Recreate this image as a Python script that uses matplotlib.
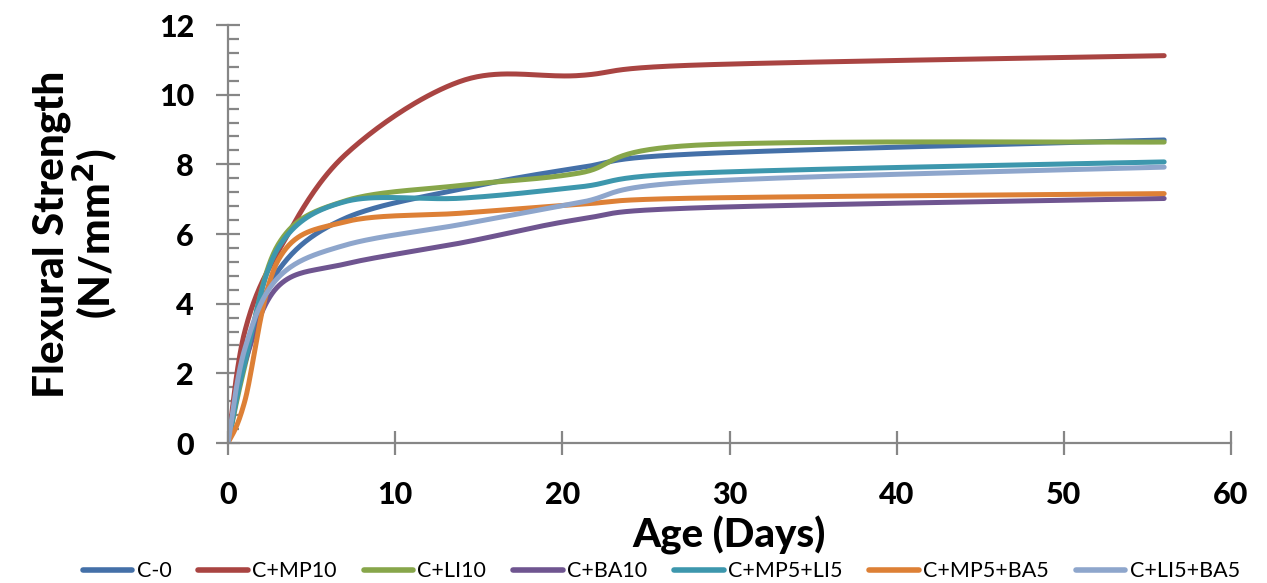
import numpy as np
import matplotlib
matplotlib.use("Agg")
import matplotlib.pyplot as plt
from matplotlib.ticker import MultipleLocator

# Data - ages in days
days = [0, 1, 3, 7, 14, 21, 28, 56]
c0 = [0, 2.4, 4.95, 6.45, 7.3, 7.9, 8.3, 8.7]
mp10 = [0, 3.2, 5.5, 8.27, 10.4, 10.55, 10.85, 11.12]
li10 = [0, 2.2, 5.7, 6.95, 7.4, 7.75, 8.55, 8.64]
ba10 = [0, 2.3, 4.5, 5.14, 5.75, 6.42, 6.75, 7.02]
mp5li5 = [0, 2.3, 5.6, 6.93, 7.03, 7.35, 7.75, 8.07]
mp5ba5 = [0, 1.2, 5.25, 6.35, 6.6, 6.85, 7.03, 7.16]
li5ba5 = [0, 2.7, 4.75, 5.68, 6.28, 6.9, 7.5, 7.92]

names = ["C-0", "C+MP10", "C+LI10", "C+BA10", "C+MP5+LI5", "C+MP5+BA5", "C+LI5+BA5"]
series = [c0, mp10, li10, ba10, mp5li5, mp5ba5, li5ba5]
colors = ["#4470a8", "#a94442", "#87a64a", "#6f5590", "#3d97ad", "#dd8036", "#8ea6cc"]


def smooth(xs, ys, n=40):
    # Excel-like smoothed line: cubic bezier through points
    p = np.column_stack([xs, ys]).astype(float)
    out = []
    for i in range(len(p) - 1):
        p0 = p[i - 1] if i > 0 else p[i]
        p1 = p[i]
        p2 = p[i + 1]
        p3 = p[i + 2] if i + 2 < len(p) else p[i + 1]
        b1 = p1 + (p2 - p0) / 6
        b2 = p2 - (p3 - p1) / 6
        t = np.linspace(0, 1, n)[:, None]
        seg = ((1 - t) ** 3) * p1 + 3 * ((1 - t) ** 2) * t * b1 + 3 * (1 - t) * t ** 2 * b2 + t ** 3 * p2
        out.append(seg if i == 0 else seg[1:])
    out = np.vstack(out)
    return out[:, 0], out[:, 1]


plt.rcParams['font.family'] = ['Lato', 'DejaVu Sans']

fig = plt.figure(figsize=(12.67, 5.83), dpi=100)
ax = fig.add_axes([0.18, 0.2401, 0.7916, 0.7170])

for name, vals, col in zip(names, series, colors):
    sx, sy = smooth(days, vals)
    ax.plot(sx, sy, color=col, lw=3.6, label=name, solid_capstyle='round')

ax.set_xlim(0, 60)
ax.set_ylim(0, 12)
ax.xaxis.set_major_locator(MultipleLocator(10))
ax.yaxis.set_major_locator(MultipleLocator(2))
ax.yaxis.set_minor_locator(MultipleLocator(0.4))

axis_gray = "#868686"
for s in ["top", "right"]:
    ax.spines[s].set_visible(False)
for s in ["left", "bottom"]:
    ax.spines[s].set_color(axis_gray)
    ax.spines[s].set_linewidth(1.6)

ax.tick_params(axis='both', which='major', direction='inout', length=17, width=1.6,
               color=axis_gray, labelsize=22)
ax.tick_params(axis='x', which='major', pad=19)
ax.tick_params(axis='y', which='major', pad=16)
ax.tick_params(axis='y', which='minor', direction='in', length=8, width=1.6, color=axis_gray)
for lab in ax.get_xticklabels() + ax.get_yticklabels():
    lab.set_fontweight('black')

ax.set_xlabel("Age (Days)", fontsize=29, fontweight='black', labelpad=5)
ax.set_ylabel("Flexural Strength\n(N/mm$^\\mathbf{2}$)", fontsize=30.5, fontweight='black',
              linespacing=1.0, labelpad=28)

leg = fig.legend(loc='lower center', bbox_to_anchor=(0.522, -0.03), ncol=7, frameon=False,
                 fontsize=15.5, handlelength=2.3, columnspacing=1.25, handletextpad=0.2)
for line in leg.get_lines():
    line.set_linewidth(4)

fig.savefig("out.png", dpi=100)
